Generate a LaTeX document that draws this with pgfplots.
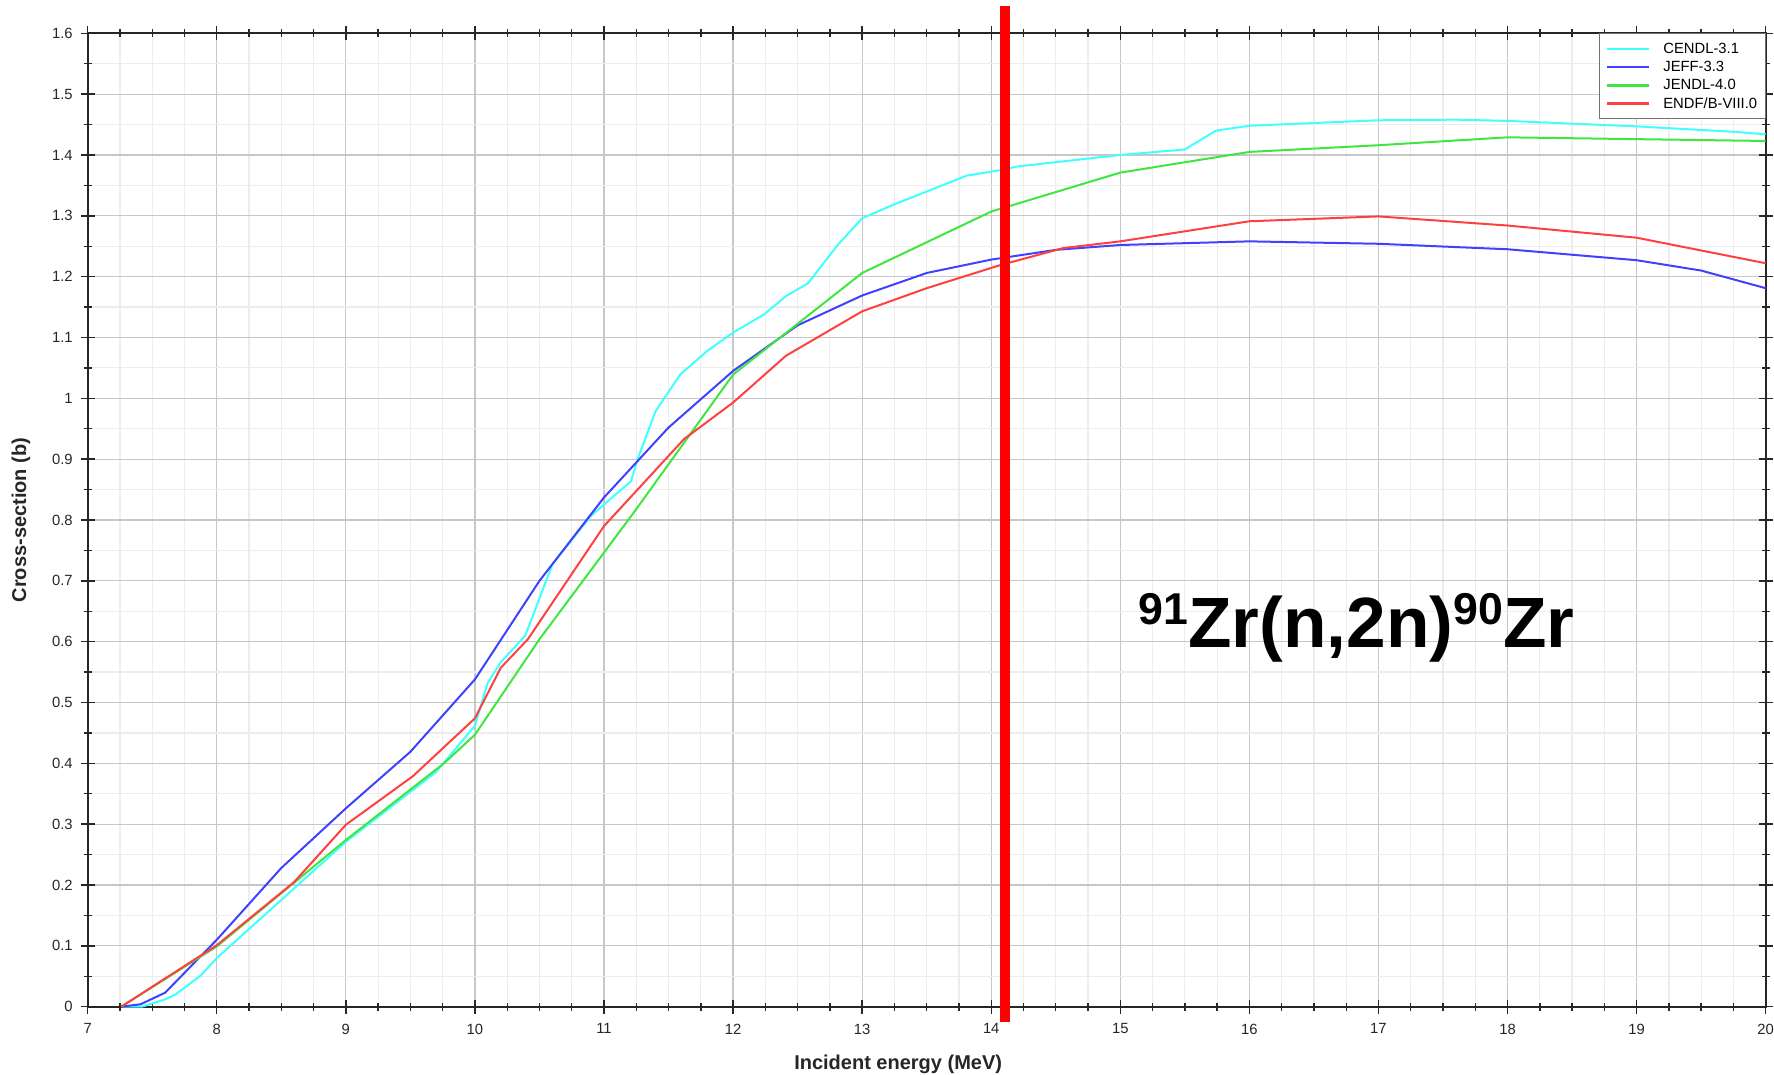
\documentclass[border=0pt]{standalone}
\usepackage{fontspec}
\setmainfont{Liberation Sans}
\usepackage{pgfplots}
\pgfplotsset{compat=1.18}
\definecolor{ccyan}{RGB}{64,255,255}
\definecolor{cblue}{RGB}{64,64,255}
\definecolor{cgreen}{RGB}{64,230,64}
\definecolor{cred}{RGB}{255,64,64}
\begin{document}
\begin{tikzpicture}
\begin{axis}[
  at={(0,0)}, anchor=south west, scale only axis,
  width=839pt, height=486.7pt,
  xmin=7, xmax=20, ymin=0, ymax=1.6,
  xtick={7,8,...,20},
  ytick={0,0.1,0.2,0.3,0.4,0.5,0.6,0.7,0.8,0.9,1,1.1,1.2,1.3,1.4,1.5,1.6},
  yticklabels={0,0.1,0.2,0.3,0.4,0.5,0.6,0.7,0.8,0.9,1,1.1,1.2,1.3,1.4,1.5,1.6},
  minor x tick num=3, minor y tick num=1,
  grid=both,
  major grid style={draw=black!22, line width=0.6pt},
  minor grid style={draw=black!7, line width=0.6pt},
  axis line style={black!85, line width=1pt},
  tick style={black!85, line width=0.7pt},
  tick align=center, major tick length=7pt, minor tick length=4pt,
  /pgf/number format/assume math mode=true,
  tick label style={font=\fontsize{7.4}{8}\selectfont, black!85},
  xticklabel style={yshift=-1.5pt},
  yticklabel style={xshift=-0.5pt},
  clip=false,
  xlabel={Incident energy (MeV)},
  ylabel={Cross-section (b)},
  every axis x label/.style={at={(axis description cs:0.483,-0.065)}, anchor=base, font=\bfseries\fontsize{10}{12}\selectfont, black!85},
  every axis y label/.style={at={(axis description cs:-0.0398,0.5)}, rotate=90, anchor=center, font=\bfseries\fontsize{10}{12}\selectfont, black!85},
  legend style={at={(1,1)}, anchor=north east, draw=black!55, fill=white, line width=0.6pt,
    font=\fontsize{7.4}{8}\selectfont, inner xsep=3.2pt, inner ysep=3pt,
    row sep=0pt, nodes={inner sep=0.8pt, text height=6pt, text depth=1.5pt}},
  legend cell align=left,
  legend image code/.code={\draw[#1, line width=1.2pt] (0pt,0pt) -- (21pt,0pt); \path (0pt,0pt) (27pt,0pt);},
]
\addplot[ccyan, line width=1pt] coordinates {
(7.27,0) (7.42,0) (7.6,0.012) (7.68,0.02) (7.88,0.052) (8.0,0.08) (9.0,0.271) (9.7,0.386)
(10.0,0.462) (10.1,0.533) (10.2,0.566) (10.39,0.61) (10.6,0.727) (10.9,0.807) (11.21,0.864)
(11.26,0.90) (11.4,0.979) (11.59,1.039) (11.8,1.078) (12.0,1.108) (12.24,1.138) (12.41,1.168)
(12.58,1.189) (12.81,1.252) (13.0,1.296) (13.24,1.318) (13.5,1.34) (13.81,1.366) (14.07,1.375)
(14.2,1.381) (15.0,1.40) (15.5,1.409) (15.74,1.44) (16.0,1.448) (17.0,1.457) (17.6,1.458)
(18.0,1.456) (19.0,1.447) (19.76,1.438) (20,1.434)};
\addlegendentry{CENDL-3.1}
\addplot[cblue, line width=1pt] coordinates {
(7.26,0) (7.41,0.004) (7.6,0.023) (8.0,0.11) (8.5,0.228) (9.0,0.326) (9.5,0.419) (10.0,0.538)
(10.5,0.70) (11.0,0.837) (11.5,0.952) (12.0,1.045) (12.5,1.12) (13.0,1.169) (13.5,1.206)
(14.0,1.228) (14.5,1.244) (15,1.252) (16,1.258) (17,1.254) (18,1.245) (19,1.227) (19.5,1.21) (20,1.181)};
\addlegendentry{JEFF-3.3}
\addplot[cgreen, line width=1pt] coordinates {
(7.26,0) (8.0,0.099) (9.0,0.274) (9.76,0.40) (10.0,0.447) (10.5,0.604) (11.23,0.812) (12.0,1.039)
(13.0,1.206) (14.0,1.307) (15.0,1.371) (16.0,1.405) (17.0,1.416) (18.0,1.429) (19.0,1.426) (20.0,1.423)};
\addlegendentry{JENDL-4.0}
\addplot[cred, line width=1pt] coordinates {
(7.26,0) (8.0,0.101) (8.6,0.205) (9.0,0.299) (9.52,0.379) (10.0,0.474) (10.2,0.557) (10.41,0.604)
(11.0,0.79) (11.62,0.933) (12.0,0.993) (12.41,1.07) (13.0,1.143) (13.5,1.181) (14.07,1.219)
(14.56,1.247) (15,1.258) (16,1.291) (17,1.299) (18,1.284) (19,1.264) (20,1.222)};
\addlegendentry{ENDF/B-VIII.0}
\addplot[red, line width=5pt, forget plot] coordinates {(14.108,-0.0247) (14.108,1.645)};
\node[anchor=base, font=\bfseries\fontsize{35.6}{40}\selectfont] at (axis cs:16.83,0.59)
  {\raisebox{11.5pt}{\fontsize{22.3}{24}\selectfont 91}Zr(n,2n)\raisebox{11.5pt}{\fontsize{22.3}{24}\selectfont 90}Zr};
\end{axis}
\pgfresetboundingbox
\useasboundingbox (-43.85pt,-34.15pt) rectangle (843.15pt,503.35pt);
\end{tikzpicture}
\end{document}
